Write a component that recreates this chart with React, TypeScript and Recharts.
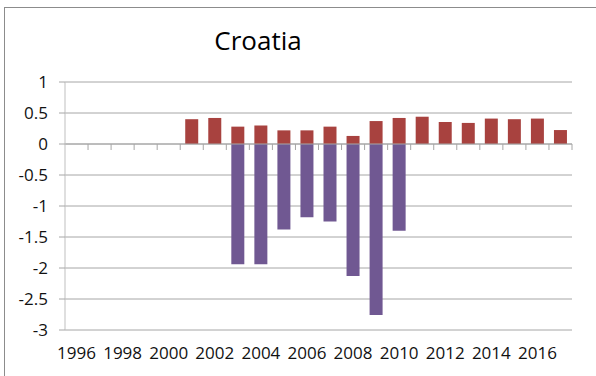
import React from "react";
import { BarChart, Bar, XAxis, YAxis, CartesianGrid, ReferenceLine } from "recharts";

const years = [
  "1996", "1997", "1998", "1999", "2000", "2001", "2002", "2003", "2004", "2005", "2006",
  "2007", "2008", "2009", "2010", "2011", "2012", "2013", "2014", "2015", "2016", "2017",
];
const positiveSeries: (number | null)[] = [
  null, null, null, null, null, 0.4, 0.42, 0.28, 0.3, 0.22, 0.22,
  0.28, 0.13, 0.37, 0.42, 0.44, 0.355, 0.34, 0.41, 0.4, 0.41, 0.225,
];
const negativeSeries: (number | null)[] = [
  null, null, null, null, null, null, null, -1.94, -1.94, -1.38, -1.18,
  -1.25, -2.13, -2.76, -1.4, null, null, null, null, null, null, null,
];
const yTicks = [1, 0.5, 0, -0.5, -1, -1.5, -2, -2.5, -3];
const title = "Croatia";

const data = years.map((y, i) => ({ year: y, pos: positiveSeries[i], neg: negativeSeries[i] }));

const FONT = "'Open Sans', sans-serif";
const GRID = "#a6a6a6";

const ZeroAxis = (props: any) => {
  const { x1, y1, x2, y2 } = props;
  const n = years.length;
  const step = (x2 - x1) / n;
  const ticks = [];
  for (let k = 1; k <= n; k++) {
    const x = x1 + k * step;
    ticks.push(<line key={k} x1={x} x2={x} y1={y1} y2={y1 + 6} stroke={GRID} strokeWidth={1} />);
  }
  return (
    <g>
      <line x1={x1} y1={y1} x2={x2} y2={y2} stroke={GRID} strokeWidth={1} />
      {ticks}
    </g>
  );
};

export default function App() {
  return (
    <div style={{ position: "absolute", left: 0, top: 0, width: 596, height: 376, overflow: "hidden", background: "#fff" }}>
      <div
        style={{
          position: "absolute",
          left: 0,
          top: 0,
        }}
      >
        <BarChart
          width={596}
          height={376}
          data={data}
          stackOffset="sign"
          margin={{ top: 82, right: 24, bottom: 16, left: 0 }}
          barSize={13}
        >
          <CartesianGrid vertical={false} stroke={GRID} strokeDasharray="" />
          <XAxis
            dataKey="year"
            interval={1}
            axisLine={false}
            tickLine={false}
            tickSize={0}
            tickMargin={17}
            height={30}
            tick={{ fontFamily: FONT, fontSize: 17, fill: "#111" }}
          />
          <YAxis
            domain={[-3, 1]}
            ticks={yTicks}
            interval={0}
            width={65}
            axisLine={{ stroke: "#bfbfbf" }}
            tickLine={{ stroke: GRID }}
            tickSize={6}
            tickMargin={11}
            tick={{ fontFamily: FONT, fontSize: 17, fill: "#111" }}
          />
          <ReferenceLine y={0} shape={<ZeroAxis />} />
          <Bar dataKey="pos" stackId="a" fill="#A8423F" isAnimationActive={false} />
          <Bar dataKey="neg" stackId="a" fill="#705892" isAnimationActive={false} />
        </BarChart>
      </div>
      <div
        style={{
          position: "absolute",
          left: 158,
          width: 200,
          top: 22,
          textAlign: "center",
          fontFamily: FONT,
          fontSize: 26,
          color: "#000",
          lineHeight: "36px",
        }}
      >
        {title}
      </div>
      <div
        style={{
          position: "absolute",
          left: 4,
          top: 7,
          width: 640,
          height: 420,
          border: "1px solid #8c8c8c",
          zIndex: 5,
          pointerEvents: "none",
        }}
      />
    </div>
  );
}
